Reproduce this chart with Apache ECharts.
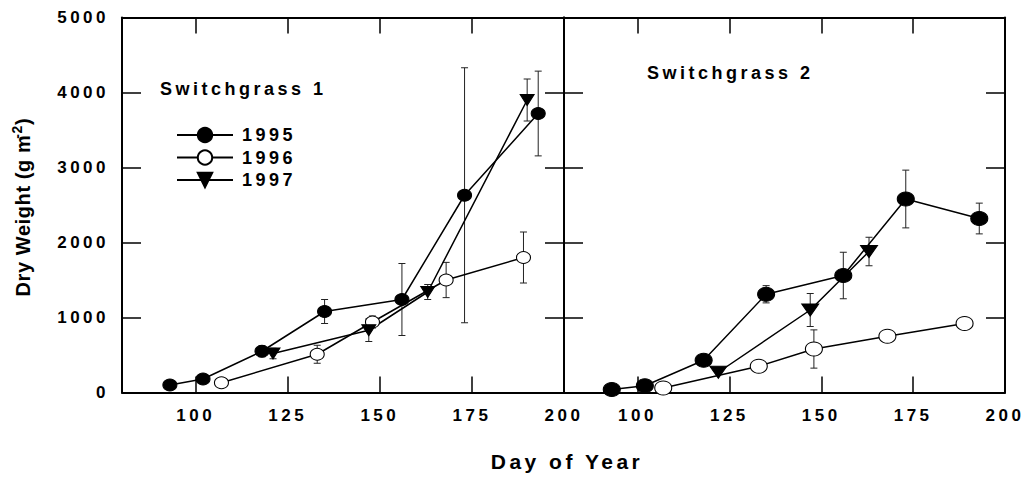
<!DOCTYPE html>
<html>
<head>
<meta charset="utf-8">
<script src="https://cdn.jsdelivr.net/npm/echarts@6/dist/echarts.min.js"></script>
<style>
  html, body { margin: 0; padding: 0; background: #fff; }
  #c { width: 1026px; height: 477px; }
  /* spaced-out bold lettering used throughout the figure */
  #c text { letter-spacing: 3.5px; }
  #c text[style*="20px"], #c text[style*="14px"] { letter-spacing: 0.6px; }
</style>
</head>
<body>
<div id="c"></div>
<script>
// Axis ticks
const dayTicks = [100, 125, 150, 175, 200];
const dayTicksTop = [100, 125, 150, 175];
const yearNames = ['1995', '1996', '1997'];

// Switchgrass 1: day of year, dry weight (g m-2), +/- error
const sg1Days1995 = [93, 102, 118, 135, 156, 173, 193];
const sg1Dw1995   = [100, 180, 550, 1080, 1240, 2630, 3720];
const sg1Err1995  = [0, 0, 75, 160, 480, 1700, 565];

const sg1Days1996 = [107, 133, 148, 168, 189];
const sg1Dw1996   = [130, 510, 940, 1500, 1800];
const sg1Err1996  = [0, 120, 80, 235, 340];

const sg1Days1997 = [121, 147, 163, 190];
const sg1Dw1997   = [520, 830, 1340, 3900];
const sg1Err1997  = [70, 150, 100, 280];

// Switchgrass 2
const sg2Days1995 = [93, 102, 118, 135, 156, 173, 193];
const sg2Dw1995   = [40, 90, 430, 1310, 1560, 2580, 2320];
const sg2Err1995  = [0, 0, 0, 115, 310, 385, 205];

const sg2Days1996 = [107, 133, 148, 168, 189];
const sg2Dw1996   = [60, 350, 580, 750, 920];
const sg2Err1996  = [0, 0, 255, 0, 0];

const sg2Days1997 = [122, 147, 163];
const sg2Dw1997   = [270, 1100, 1880];
const sg2Err1997  = [0, 220, 190];

const FONT = '"Liberation Sans", Arial, Helvetica, sans-serif';
const INK = '#000';

// marker styles per year
const markerStyle = {
  '1995': { symbol: 'circle', rotate: 0, fill: '#000' },
  '1996': { symbol: 'circle', rotate: 0, fill: '#fff' },
  '1997': { symbol: 'triangle', rotate: 180, fill: '#000' }
};

function lineSeries(name, panel, days, values, size) {
  const m = markerStyle[name];
  return {
    type: 'line',
    name: name,
    xAxisIndex: panel * 2,
    yAxisIndex: panel * 2,
    data: days.map((d, i) => [d, values[i]]),
    symbol: m.symbol,
    symbolRotate: m.rotate,
    symbolSize: size,
    showSymbol: true,
    z: 3,
    lineStyle: { color: INK, width: 1.5 },
    itemStyle: { color: m.fill, borderColor: INK, borderWidth: 1, opacity: 1 },
    emphasis: { disabled: true }
  };
}

function errorSeries(panel, days, values, errs) {
  const rows = [];
  days.forEach((d, i) => {
    if (errs[i] > 0) rows.push([d, values[i] - errs[i], values[i] + errs[i]]);
  });
  return {
    type: 'custom',
    xAxisIndex: panel * 2,
    yAxisIndex: panel * 2,
    z: 1,
    silent: true,
    encode: { x: 0, y: [1, 2] },
    data: rows,
    renderItem: function (params, api) {
      const lo = api.coord([api.value(0), api.value(1)]);
      const hi = api.coord([api.value(0), api.value(2)]);
      const w = 3.5;
      const st = { stroke: '#222', lineWidth: 1 };
      return {
        type: 'group',
        children: [
          { type: 'line', shape: { x1: lo[0], y1: lo[1], x2: hi[0], y2: hi[1] }, style: st },
          { type: 'line', shape: { x1: lo[0] - w, y1: lo[1], x2: lo[0] + w, y2: lo[1] }, style: st },
          { type: 'line', shape: { x1: hi[0] - w, y1: hi[1], x2: hi[0] + w, y2: hi[1] }, style: st }
        ]
      };
    }
  };
}

const axisLine = { show: true, onZero: false, lineStyle: { color: INK, width: 2 } };
const labelStyle = { color: INK, fontFamily: FONT, fontWeight: 'bold', fontSize: 17, formatter: v => String(v) };

function xAxes(grid) {
  return [
    {
      type: 'value', gridIndex: grid, position: 'bottom', min: 80, max: 200,
      axisLine: axisLine,
      splitLine: { show: false },
      axisTick: { show: true, inside: true, length: 16, customValues: dayTicks,
        lineStyle: { color: INK, width: 1.5 } },
      axisLabel: Object.assign({ show: true, margin: 14, customValues: dayTicks }, labelStyle)
    },
    {
      type: 'value', gridIndex: grid, position: 'top', min: 80, max: 200,
      axisLine: axisLine,
      splitLine: { show: false },
      axisTick: { show: true, inside: true, length: 16, customValues: dayTicksTop,
        lineStyle: { color: INK, width: 1.5 } },
      axisLabel: { show: false }
    }
  ];
}

function yAxes(grid, withLabels) {
  const left = {
    type: 'value', gridIndex: grid, position: 'left', min: 0, max: 5000, interval: 1000,
    axisLine: axisLine,
    splitLine: { show: false },
    axisTick: { show: true, inside: true, length: 19, lineStyle: { color: INK, width: 1.5 } },
    axisLabel: Object.assign({ show: withLabels, margin: 13 }, labelStyle)
  };
  if (withLabels) {
    left.name = '{b|Dry Weight (g m}{s|-2}{b|)}';
    left.nameLocation = 'middle';
    left.nameGap = 87;
    left.nameTextStyle = {
      rich: {
        b: { fontFamily: FONT, fontWeight: 'bold', fontSize: 20, color: INK, lineHeight: 25 },
        s: { fontFamily: FONT, fontWeight: 'bold', fontSize: 14, color: INK, verticalAlign: 'top', lineHeight: 14, padding: [0, 1, 0, 1] }
      }
    };
  }
  const right = {
    type: 'value', gridIndex: grid, position: 'right', min: 0, max: 5000, interval: 1000,
    axisLine: axisLine,
    splitLine: { show: false },
    axisTick: { show: true, inside: true, length: 19, lineStyle: { color: INK, width: 1.5 } },
    axisLabel: { show: false }
  };
  return [left, right];
}

const leftSize = { circle: [14, 12], tri: [14, 11] };
const rightSize = { circle: [17, 14], tri: [17, 12] };

const option = {
  animation: false,
  backgroundColor: '#fff',
  grid: [
    { left: 122, top: 17.5, width: 442, height: 375 },
    { left: 564, top: 17.5, width: 441, height: 375 }
  ],
  xAxis: xAxes(0).concat(xAxes(1)),
  yAxis: yAxes(0, true).concat(yAxes(1, false)),
  legend: {
    data: yearNames,
    orient: 'vertical',
    left: 171,
    top: 121,
    itemWidth: 56,
    itemHeight: 18,
    itemGap: 4.5,
    selectedMode: false,
    textStyle: { fontFamily: FONT, fontWeight: 'bold', fontSize: 18, color: INK, lineHeight: 18, padding: [0, 0, 0, 4] }
  },
  graphic: [
    { type: 'text', x: 160, y: 89, silent: true,
      style: { text: 'Switchgrass 1', font: 'bold 18px ' + FONT, fill: INK, align: 'left', verticalAlign: 'middle' } },
    { type: 'text', x: 647, y: 72.5, silent: true,
      style: { text: 'Switchgrass 2', font: 'bold 18px ' + FONT, fill: INK, align: 'left', verticalAlign: 'middle' } },
    { type: 'text', x: 567, y: 461, silent: true,
      style: { text: 'Day of Year', font: 'bold 21px ' + FONT, fill: INK, align: 'center', verticalAlign: 'middle' } }
  ],
  series: [
    errorSeries(0, sg1Days1995, sg1Dw1995, sg1Err1995),
    errorSeries(0, sg1Days1996, sg1Dw1996, sg1Err1996),
    errorSeries(0, sg1Days1997, sg1Dw1997, sg1Err1997),
    errorSeries(1, sg2Days1995, sg2Dw1995, sg2Err1995),
    errorSeries(1, sg2Days1996, sg2Dw1996, sg2Err1996),
    errorSeries(1, sg2Days1997, sg2Dw1997, sg2Err1997),
    lineSeries('1995', 0, sg1Days1995, sg1Dw1995, leftSize.circle),
    lineSeries('1996', 0, sg1Days1996, sg1Dw1996, leftSize.circle),
    lineSeries('1997', 0, sg1Days1997, sg1Dw1997, leftSize.tri),
    lineSeries('1995', 1, sg2Days1995, sg2Dw1995, rightSize.circle),
    lineSeries('1996', 1, sg2Days1996, sg2Dw1996, rightSize.circle),
    lineSeries('1997', 1, sg2Days1997, sg2Dw1997, rightSize.tri)
  ]
};

const chart = echarts.init(document.getElementById('c'), null, { renderer: 'svg' });
chart.setOption(option);
</script>
</body>
</html>
